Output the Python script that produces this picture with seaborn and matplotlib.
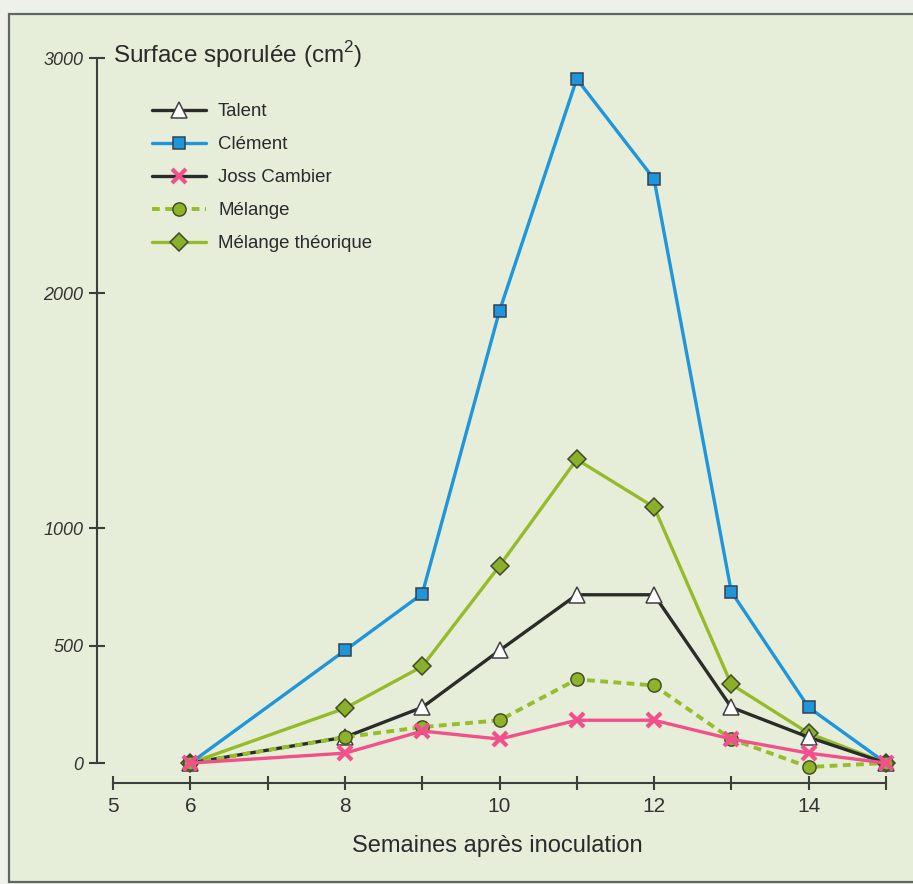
import matplotlib
matplotlib.use("Agg")
import matplotlib.pyplot as plt
import seaborn as sns
import pandas as pd
from matplotlib.patches import Rectangle
from matplotlib.lines import Line2D

weeks = [6, 8, 9, 10, 11, 12, 13, 14, 15]
talent = [0, 110, 237, 479, 716, 716, 237, 110, 0]
clement = [0, 479, 720, 1924, 2911, 2485, 729, 237, 0]
joss = [0, 42, 136, 102, 182, 182, 102, 42, 0]
melange = [0, 110, 153, 182, 356, 330, 102, -17, 0]
melange_theo = [0, 233, 411, 839, 1292, 1089, 335, 127, 0]

series_names = ["Talent", "Clément", "Joss Cambier", "Mélange", "Mélange théorique"]
xticks = [5, 6, 7, 8, 9, 10, 11, 12, 13, 14, 15]
xticklabels = ["5", "6", "", "8", "", "10", "", "12", "", "14", ""]
yticks = [0, 500, 1000, 2000, 3000]
yticklabels = ["0", "500", "1000", "2000", "3000"]

sns.set_theme(style="white")
plt.rcParams['font.family'] = ['Liberation Sans', 'DejaVu Sans']
plt.rcParams['mathtext.fontset'] = 'custom'
plt.rcParams['mathtext.rm'] = 'Liberation Sans'

W, H = 913, 884
fig = plt.figure(figsize=(W / 100, H / 100), dpi=100, facecolor="#eef1ea")
fig.patches.append(Rectangle((9 / W, 2 / H), 1.2, 1 - 16 / H, transform=fig.transFigure,
                             facecolor="#e6eed9", edgecolor="#5e6660", lw=1.6, zorder=-10))

# axes placement in pixels
x0_px, x1_px = 97, 909
y_top_px, y_bot_px = 34.5, 783
ax = fig.add_axes([x0_px / W, 1 - y_bot_px / H, (x1_px - x0_px) / W, (y_bot_px - y_top_px) / H])
ax.set_facecolor("none")
ax.set_zorder(2)

df = pd.DataFrame({"week": weeks * 5,
                   "value": talent + clement + joss + melange + melange_theo,
                   "serie": sum([[n] * len(weeks) for n in series_names], [])})

styles = {
    "Talent": dict(color="#2a2c2a", marker="^", mfc="white", mec="#404040", ms=11, ls="-", lw=2.4),
    "Clément": dict(color="#1f95dc", marker="s", mfc="#1f95dc", mec="#354050", ms=9, ls="-", lw=2.4),
    "Joss Cambier": dict(color="#f2508a", marker="x", mfc="#f2508a", mec="#f2508a", ms=10, ls="-", mew=3, lw=2.4),
    "Mélange": dict(color="#96bd2c", marker="o", mfc="#8fb328", mec="#44502a", ms=9.5, ls=(0, (2.0, 1.4)), lw=2.8),
    "Mélange théorique": dict(color="#96bb2a", marker="D", mfc="#8ab02a", mec="#3e4a2a", ms=9.5, ls="-", lw=2.4),
}
order = ["Mélange théorique", "Clément", "Talent", "Mélange", "Joss Cambier"]
for name in order:
    st = styles[name]
    sub = df[df["serie"] == name]
    sns.lineplot(data=sub, x="week", y="value", ax=ax, color=st["color"], lw=st["lw"],
                 linestyle=st["ls"], marker=st["marker"], markersize=st["ms"],
                 markerfacecolor=st["mfc"], markeredgecolor=st["mec"],
                 markeredgewidth=st.get("mew", 1.1), legend=False, zorder=3)

ax.set_xlim(4.79, 15.3)
ax.set_ylim(-85, 3100)

# spines
for s in ["top", "right"]:
    ax.spines[s].set_visible(False)
ax.spines["left"].set_bounds(0, 3000)
ax.spines["bottom"].set_bounds(5, 15)
for s in ["left", "bottom"]:
    ax.spines[s].set_color("#3a403c")
    ax.spines[s].set_linewidth(1.5)

ax.set_xticks(xticks)
ax.set_xticklabels(xticklabels, fontsize=15, color="#333")
ax.set_yticks(yticks)
ax.set_yticklabels(yticklabels, fontsize=13, style="italic", color="#333")
ax.tick_params(axis="x", bottom=True, direction="inout", length=10, width=1.5, color="#3a403c", pad=5)
ax.tick_params(axis="y", left=True, direction="inout", length=12, width=1.5, color="#3a403c", pad=4)
ax.set_xlabel("")
ax.set_ylabel("")

fig.text(497 / W, 1 - 846 / H, "Semaines après inoculation", ha="center", va="center",
         fontsize=17, color="#2a2a2a")
fig.text(113 / W, 1 - 55 / H, "Surface sporulée (cm$^{2}$)", ha="left", va="center",
         fontsize=17.5, color="#2a2a2a")

handles = []
for name in series_names:
    st = styles[name]
    lc = "#2a2c2a" if name == "Joss Cambier" else st["color"]
    handles.append(Line2D([0], [0], color=lc, lw=st["lw"], linestyle=st["ls"], marker=st["marker"],
                          markersize=st["ms"], markerfacecolor=st["mfc"],
                          markeredgecolor=st["mec"], markeredgewidth=st.get("mew", 1.1)))
leg = fig.legend(handles, series_names, loc="upper left",
                 bbox_to_anchor=(152 / W, 1 - 103 / H), bbox_transform=fig.transFigure,
                 frameon=False, fontsize=13.4, handlelength=2.9, handletextpad=0.65,
                 labelspacing=0.86, borderpad=0, borderaxespad=0)
for t in leg.get_texts():
    t.set_color("#2a2a2a")

fig.savefig("out.png", dpi=100, facecolor=fig.get_facecolor())
